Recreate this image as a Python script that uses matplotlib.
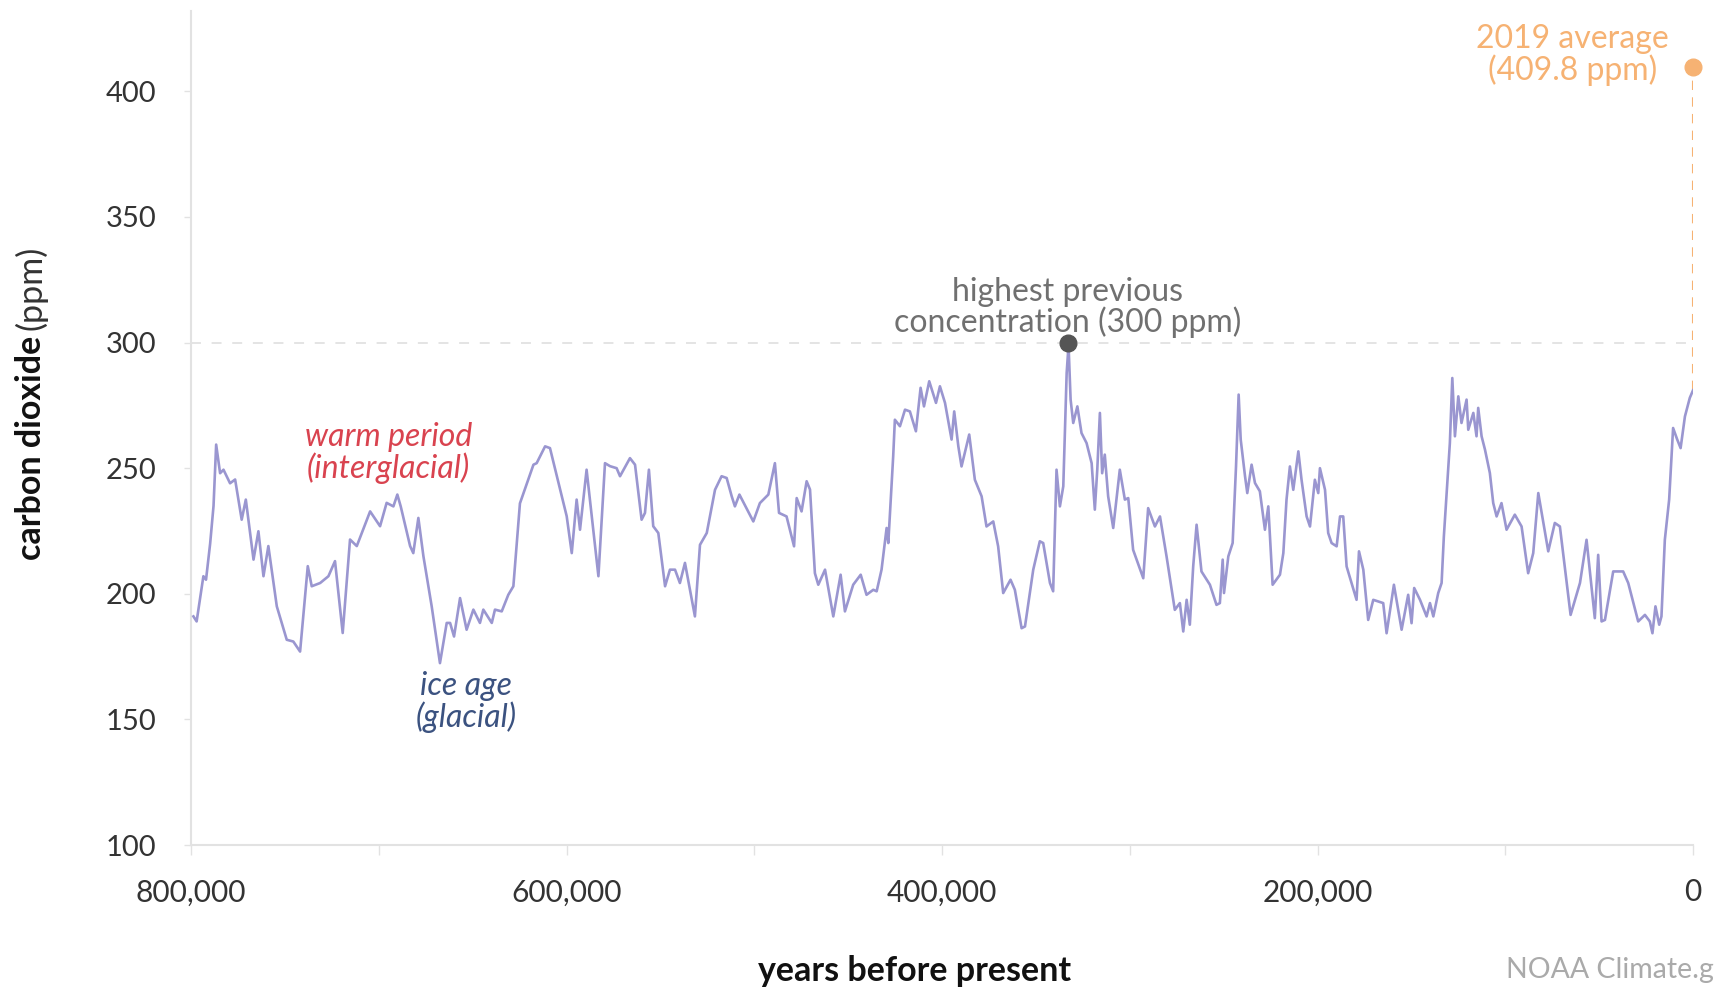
import matplotlib.pyplot as plt
from matplotlib.ticker import FixedLocator

plt.rcParams['font.family'] = ['Lato', 'DejaVu Sans']

# CO2 record, thousands of years before present and ppm
years_ka = [
    798.7, 797.0, 793.4, 792.0, 789.8, 788.0, 786.6, 784.5, 782.7, 779.2,
    776.5, 773.0, 770.8, 766.7, 764.1, 761.4, 758.8, 754.3, 749.0, 745.5,
    741.9, 737.8, 735.7, 731.2, 726.8, 723.3, 719.2, 715.3, 711.7, 704.6,
    699.3, 695.8, 692.2, 690.1, 688.3, 683.3, 681.6, 678.9, 676.2, 671.8,
    667.4, 663.8, 662.0, 659.9, 656.7, 653.2, 649.6, 646.1, 644.3, 639.8,
    638.1, 634.5, 631.0, 628.3, 624.8, 617.6, 615.9, 611.4, 608.8, 603.4,
    599.9, 597.2, 594.6, 592.8, 589.3, 583.0, 579.5, 576.8, 573.3, 571.5,
    566.2, 563.5, 560.0, 558.2, 556.1, 553.8, 551.1, 547.5, 544.9, 542.2,
    539.6, 536.9, 531.6, 528.9,
    525.3, 520.9, 517.4, 514.7, 512.0, 510.3, 507.9, 500.5, 497.0, 492.5,
    489.0, 486.8, 482.8, 478.8, 477.4, 474.8, 472.1, 470.3, 467.7, 465.9,
    462.3, 457.9, 454.0, 451.7, 447.3, 443.3, 440.2, 436.6, 434.8, 432.2,
    429.5, 428.6, 426.0, 425.1, 422.4, 419.7, 417.1, 413.9, 411.4, 409.6,
    406.8, 404.6, 403.2, 401.1, 398.4, 394.9, 393.5, 391.3, 389.6, 385.5,
    382.5, 378.9, 376.3, 372.7, 370.1, 367.4, 363.5, 361.2, 357.6, 355.8,
    351.4, 347.9, 346.1, 342.5, 340.8, 339.0, 337.2, 335.4, 333.6, 332.6,
    331.5, 330.1, 327.9, 325.7, 323.0, 320.3, 318.6, 317.3, 315.9, 314.7,
    313.3, 311.5, 308.8, 305.3, 302.6, 300.8, 298.2, 292.8, 290.2, 286.6,
    283.9, 280.4, 276.0, 273.3, 271.5, 269.7, 268.0, 266.2, 264.4, 261.8,
    257.3, 253.8, 252.0,
    250.5, 249.8, 247.5, 245.2, 243.4, 242.0, 240.9, 238.6, 237.4, 235.1,
    233.3, 230.7, 228.0, 226.2, 223.9, 220.0, 218.2, 216.5, 214.7, 212.9,
    210.2, 208.5, 205.8, 204.0, 201.4, 199.6, 198.7, 196.0, 194.3, 192.5,
    189.8, 188.0, 186.3, 184.5, 179.2, 177.9, 175.6, 173.0, 170.3, 165.0,
    163.2, 159.3, 155.2, 151.7, 149.9, 148.5, 145.4, 141.9, 140.1, 138.3,
    135.7, 133.9, 132.7, 130.9, 129.5, 128.2, 126.8, 125.0, 123.3, 120.6,
    119.7, 117.0, 115.3, 114.4, 112.6, 110.8, 108.2, 106.4, 104.6, 102.0,
    99.3, 94.9, 91.3, 87.8, 85.1, 82.4, 77.1, 73.6, 70.9, 65.2,
    60.2, 56.7, 52.3, 50.5, 48.7, 46.9, 42.5, 37.2, 34.5, 29.2,
    25.6, 23.0, 21.6, 20.0, 18.0, 16.8, 15.0, 12.7, 10.6, 8.4,
    6.6, 4.3, 1.7, 0.0,
]
co2_ppm = [
    191, 189, 207, 205.6, 220, 235, 259.4, 248, 249.4, 244,
    245.5, 229.5, 237.5, 213.6, 224.9, 207, 219, 195, 181.7, 181,
    177, 211, 203, 204.3, 207, 213, 184.4, 221.6, 219, 232.8,
    226.9, 236.2, 234.8, 239.5, 234.8, 219, 216.2, 230.2, 214.9, 195,
    172.4, 188.4, 188.4, 183, 198.3, 185.7, 193.7, 188.4, 193.7, 188.4,
    193.7, 193, 199.6, 203, 236, 251.4, 252, 258.7, 258, 241.5,
    230.9, 216.2, 237.5, 225.5, 249.4, 207, 252, 250.8, 250, 246.8,
    254, 251.4, 229.5, 232.2, 249.4, 226.9, 224.2, 203, 209.6, 209.6,
    204.3, 212.3, 191, 219.5,
    224.2, 241.4, 246.8, 246.1, 238.8, 234.8, 239.5, 228.8, 236.1, 239.5,
    252, 232.2, 230.8, 218.9, 238.1, 232.8, 244.8, 241.5, 208.2, 203.6,
    209.6, 191, 207.6, 193, 203.6, 207.6, 199.6, 201.6, 201, 209.6,
    226.2, 220.2, 254.7, 269.3, 266.7, 273.3, 272.6, 264.7, 282, 274.6,
    284.6, 279.3, 276, 282.6, 276, 261.4, 272.6, 258.7, 250.7, 263.4,
    245.4, 238.8, 226.8, 228.8, 218.9, 200.3, 205.6, 201.6, 186.3, 187,
    209.6, 220.9, 220.2, 204.3, 201, 249.4, 234.8, 242.8, 287.9, 299,
    277.3, 268, 274.6, 264, 260, 252, 233.5, 249.4, 272, 248,
    255.4, 238.8, 226.2, 249.4, 237.5, 238.1, 217.5, 206.2, 234.1, 226.8,
    230.8, 214.9, 193.6, 196.3, 185, 197.6, 187.7, 211, 227.5, 208.9,
    203.6, 195.6, 196.3,
    213.6, 200.3, 214.9, 220.2, 250.7, 279.3, 261.4, 246.8, 240.1, 251.4,
    244.1, 240.8, 225.5, 234.8, 203.6, 207.6, 216.2, 237.5, 250.7, 241.4,
    256.7, 245.4, 230.8, 226.8, 245.4, 240.1, 250, 241.4, 224.2, 220.2,
    218.9, 230.8, 230.8, 210.9, 197.6, 216.9, 209.6, 189.6, 197.6, 196.3,
    184.3, 203.6, 185.7, 199.6, 188.3, 202.3, 197.6, 191, 196.3, 191,
    200.3, 204.3, 222.8, 244.1, 260, 285.9, 262.7, 278.6, 268, 277.3,
    265.3, 272, 262.7, 274, 262.7, 257.4, 248.1, 236.1, 230.8, 236.1,
    225.5, 231.5, 226.8, 208.2, 216.2, 240.1, 216.9, 228.2, 226.8, 191.6,
    204.3, 221.5, 190.3, 215.5, 189, 189.6, 208.9, 208.9, 204.3, 189,
    191.6, 189, 184.3, 195, 187.7, 191, 221.5, 237.5, 266, 261.4,
    258, 270.6, 278, 281,
]

x_ticks = [800000, 600000, 400000, 200000, 0]
x_tick_labels = ['800,000', '600,000', '400,000', '200,000', '0']
x_minor_ticks = [700000, 500000, 300000, 100000]
y_ticks = [100, 150, 200, 250, 300, 350, 400]

previous_max = (333000, 300)
avg_2019 = (0, 409.8)

line_color = '#9a96d0'
orange = '#f6b273'
light = '#e2e2e2'

fig = plt.figure(figsize=(17.14, 9.9), dpi=100)
ax = fig.add_axes([191 / 1714, 1 - 845 / 990, 1502 / 1714, 834 / 990])

years = [k * 1000 for k in years_ka]

# reference line at 300 ppm
ax.axhline(300, color='#dcdcdc', lw=1.1, ls=(0, (6.5, 7)), zorder=1)

# dashed line from last value up to 2019 average
ax.plot([0, 0], [co2_ppm[-1], avg_2019[1]], color=orange, lw=1.5,
        ls=(0, (4.5, 3.5)), zorder=2)

ax.plot(years, co2_ppm, color=line_color, lw=1.9, zorder=3)

ax.plot(*previous_max, 'o', color='#555555', ms=12, zorder=4)
ax.plot(*avg_2019, 'o', color=orange, ms=12, zorder=4, clip_on=False)

ax.set_xlim(800000, 0)
ax.set_ylim(100, 432)

ax.set_xticks(x_ticks)
ax.set_xticklabels(x_tick_labels)
ax.xaxis.set_minor_locator(FixedLocator(x_minor_ticks))
ax.set_yticks(y_ticks)

for s in ['top', 'right']:
    ax.spines[s].set_visible(False)
for s in ['left', 'bottom']:
    ax.spines[s].set_color(light)
    ax.spines[s].set_linewidth(1.5)

ax.tick_params(axis='x', which='both', length=7, width=1, color=light,
               labelsize=21.5, labelcolor='#333333', pad=17)
ax.tick_params(axis='y', length=5, width=1, color=light,
               labelsize=21, labelcolor='#333333', pad=20)

# annotations
ann = dict(ha='center', va='center', fontsize=23, linespacing=1.0)
ax.text(previous_max[0], 314, 'highest previous\nconcentration (300 ppm)',
        color='#707070', **ann)
ax.text(64000, 414.5, '2019 average\n(409.8 ppm)', color=orange, **ann)
ax.text(695000, 256, 'warm period\n(interglacial)', color='#d9434f',
        style='italic', **ann)
ax.text(653500, 157, 'ice age\n(glacial)', color='#3b5280',
        style='italic', **ann)

# axis titles
fig.text(915 / 1714, 1 - 971 / 990, 'years before present', ha='center',
         va='center', fontsize=24.5, weight='bold', color='#111111')
t1 = fig.text(31 / 1714, 1 - 560 / 990, 'carbon dioxide', rotation=90,
              ha='center', va='bottom', fontsize=24.5, weight='bold',
              color='#111111')
ax.annotate('(ppm)', xy=(0.5, 1), xycoords=t1, xytext=(0, 4),
            textcoords='offset points', rotation=90, ha='center', va='bottom',
            fontsize=24.5, color='#333333', annotation_clip=False)

fig.text(1506 / 1714, 1 - 970 / 990, 'NOAA Climate.gov', ha='left', va='center',
         fontsize=20.5, color='#aaaaaa')

fig.savefig('out.png', dpi=100)
